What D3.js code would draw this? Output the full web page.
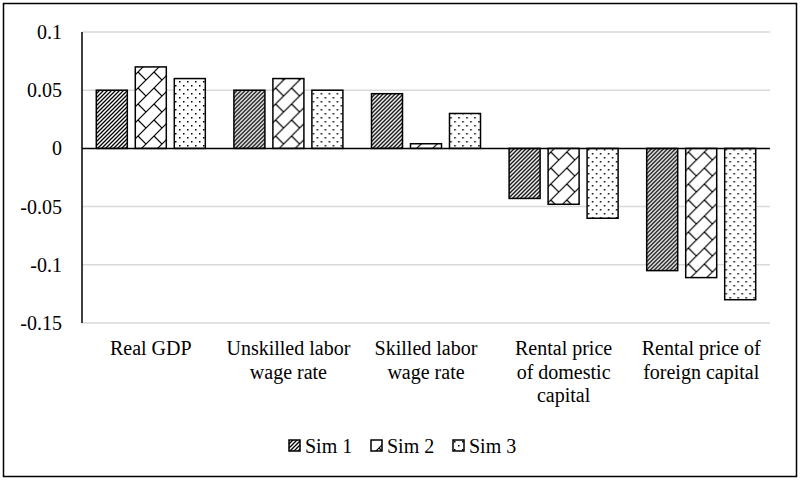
<!DOCTYPE html>
<html>
<head>
<meta charset="utf-8">
<script src="https://cdn.jsdelivr.net/npm/d3@7"></script>
<style>
  text { font-family: "Liberation Serif", Tinos, serif !important; }
</style>
</head>
<body style="margin:0; background:#fff">
<svg width="800" height="480"></svg>
<script>
// dados
const categories = ["Real GDP", "Unskilled labor wage rate", "Skilled labor wage rate",
                    "Rental price of domestic capital", "Rental price of foreign capital"];
const categoryLines = [
  ["Real GDP"],
  ["Unskilled labor", "wage rate"],
  ["Skilled labor", "wage rate"],
  ["Rental price", "of domestic", "capital"],
  ["Rental price of", "foreign capital"]
];
const seriesNames = ["Sim 1", "Sim 2", "Sim 3"];
const sim1 = [0.05, 0.05, 0.047, -0.043, -0.105];
const sim2 = [0.07, 0.06, 0.004, -0.048, -0.111];
const sim3 = [0.06, 0.05, 0.03, -0.06, -0.13];
const yTicks = [0.1, 0.05, 0, -0.05, -0.1, -0.15];
const yTickLabels = ["0.1", "0.05", "0", "-0.05", "-0.1", "-0.15"];

const seriesValues = [sim1, sim2, sim3];
const serif = "Tinos";

const svg = d3.select("svg");

// borda externa
svg.append("rect")
  .attr("x", 3.5).attr("y", 3.5)
  .attr("width", 793).attr("height", 473)
  .attr("fill", "#fff")
  .attr("stroke", "#000")
  .attr("stroke-width", 1.5);

// padrões de preenchimento
const defs = svg.append("defs");

const p1 = defs.append("pattern")
  .attr("id", "pat0")
  .attr("patternUnits", "userSpaceOnUse")
  .attr("width", 4).attr("height", 4);
p1.append("rect").attr("width", 4).attr("height", 4).attr("fill", "#fff");
p1.append("path")
  .attr("d", "M-1,1 l2,-2 M0,4 l4,-4 M3,5 l2,-2")
  .attr("stroke", "#000").attr("stroke-width", 1.3);

const p2 = defs.append("pattern")
  .attr("id", "pat1")
  .attr("patternUnits", "userSpaceOnUse")
  .attr("width", 16).attr("height", 16);
p2.append("rect").attr("width", 16).attr("height", 16).attr("fill", "#fff");
p2.append("path")
  .attr("d", "M0,16 L16,0 M8,8 L16,16 M-1,1 L1,-1 M15,17 L17,15")
  .attr("stroke", "#000").attr("stroke-width", 1.2);

const p3 = defs.append("pattern")
  .attr("id", "pat2")
  .attr("patternUnits", "userSpaceOnUse")
  .attr("width", 8).attr("height", 8);
p3.append("rect").attr("width", 8).attr("height", 8).attr("fill", "#fff");
p3.append("rect").attr("x", 1).attr("y", 1).attr("width", 1.5).attr("height", 1.5).attr("fill", "#000");
p3.append("rect").attr("x", 5).attr("y", 5).attr("width", 1.5).attr("height", 1.5).attr("fill", "#000");

// escalas
const y = d3.scaleLinear().domain([-0.15, 0.1]).range([323, 32]);
const x0 = d3.scaleBand().domain(categories).range([82, 770]);
const x1 = d3.scaleBand().domain(seriesNames)
  .range([14.3, x0.bandwidth() - 14.3])
  .paddingInner(0.205);

// linhas de grade
svg.append("g")
  .selectAll("line")
  .data(yTicks.filter(d => d !== 0))
  .enter()
  .append("line")
  .attr("x1", 82).attr("x2", 770)
  .attr("y1", d => y(d)).attr("y2", d => y(d))
  .attr("stroke", "#d9d9d9")
  .attr("stroke-width", 1.5);

// rótulos do eixo Y
svg.selectAll("text.ytick")
  .data(yTicks)
  .enter()
  .append("text")
  .attr("class", "ytick")
  .attr("x", 62)
  .attr("y", d => y(d) + 7)
  .attr("text-anchor", "end")
  .attr("font-family", serif)
  .attr("font-size", 20)
  .text((d, i) => yTickLabels[i]);

// barras
const groups = svg.append("g")
  .selectAll("g")
  .data(categories)
  .enter()
  .append("g")
  .attr("transform", d => `translate(${x0(d)},0)`);

groups.selectAll("rect")
  .data((d, i) => seriesNames.map((s, j) => ({ s, j, v: seriesValues[j][i] })))
  .enter()
  .append("rect")
  .attr("x", d => x1(d.s))
  .attr("width", x1.bandwidth())
  .attr("y", d => y(Math.max(0, d.v)))
  .attr("height", d => Math.abs(y(d.v) - y(0)))
  .attr("fill", d => `url(#pat${d.j})`)
  .attr("stroke", "#000")
  .attr("stroke-width", 1.5);

// eixo zero e eixo Y
svg.append("line")
  .attr("x1", 82).attr("x2", 770)
  .attr("y1", y(0)).attr("y2", y(0))
  .attr("stroke", "#000").attr("stroke-width", 1.5);

svg.append("line")
  .attr("x1", 82).attr("x2", 82)
  .attr("y1", y(0.1)).attr("y2", y(-0.15))
  .attr("stroke", "#000").attr("stroke-width", 1.5);

// rótulos das categorias (uma linha de texto por elemento)
const labelRows = [];
categoryLines.forEach((lines, i) => lines.forEach((t, k) => labelRows.push({ t, k, c: categories[i] })));

svg.selectAll("text.cat")
  .data(labelRows)
  .enter()
  .append("text")
  .attr("class", "cat")
  .attr("x", d => x0(d.c) + x0.bandwidth() / 2)
  .attr("y", d => 355 + d.k * 23.5)
  .attr("text-anchor", "middle")
  .attr("font-family", serif)
  .attr("font-size", 20)
  .text(d => d.t);

// legenda
const legend = svg.append("g")
  .selectAll("g")
  .data(seriesNames)
  .enter()
  .append("g")
  .attr("transform", (d, i) => `translate(${289 + i * 82},440)`);

legend.append("rect")
  .attr("width", 11).attr("height", 11)
  .attr("fill", (d, i) => `url(#pat${i})`)
  .attr("stroke", "#000")
  .attr("stroke-width", 1.5);

legend.append("text")
  .attr("x", 16)
  .attr("y", 12.5)
  .attr("font-family", serif)
  .attr("font-size", 20)
  .text(d => d);
</script>
</body>
</html>
